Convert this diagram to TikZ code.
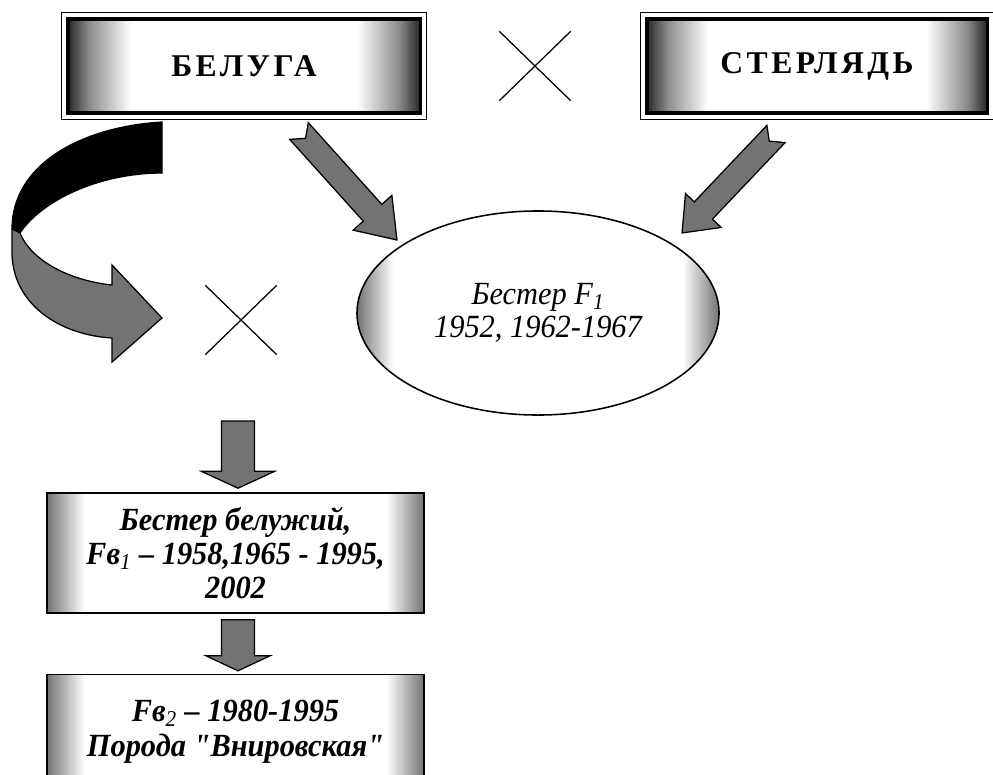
\documentclass[tikz,border=0pt]{standalone}
\usepackage{fontspec}
\setmainfont{Liberation Serif}[Ligatures=TeXOff]
\newfontfamily\spacedfont{Liberation Serif}[LetterSpace=11,Ligatures=TeXOff]
\newfontfamily\tallfont{Liberation Serif}[FakeStretch=0.94,Ligatures=TeXOff]
\usetikzlibrary{calc,positioning,shapes.geometric,shapes.misc}

\pgfdeclarehorizontalshading{boxedges}{100bp}{color(0bp)=(black!85); color(25bp)=(black!85); color(28bp)=(black!45); color(34bp)=(white); color(66bp)=(white); color(72bp)=(black!45); color(75bp)=(black!85); color(100bp)=(black!85)}
\pgfdeclarehorizontalshading{softedges}{100bp}{color(0bp)=(black!55); color(25bp)=(black!55); color(30bp)=(white); color(70bp)=(white); color(75bp)=(black!55); color(100bp)=(black!55)}

% [style]{tail}{tip}{shaft half width}{head half width}{head length}{notch}
\newcommand{\blockarrow}[7][]{%
  \path[block arrow,#1] let \p1=($(#3)-(#2)$), \n1={atan2(\y1,\x1)}, \n2={veclen(\x1,\y1)} in
    [shift={(#2)}, rotate=\n1]
    (0pt,#4) -- ({\n2*1pt-#6},#4) -- ({\n2*1pt-#6},#5) -- ({\n2*1pt},0pt)
    -- ({\n2*1pt-#6},-#5) -- ({\n2*1pt-#6},-#4) -- (0pt,-#4) -- (#7,0pt) -- cycle;}

\begin{document}
\begin{tikzpicture}[x=0.025cm, y=-0.025cm,
					thick,
					parent box/.style={draw, line width=2.2pt, shade, shading=boxedges,
					  minimum width=8.8cm, minimum height=2.35cm, inner sep=0pt,
					  font=\spacedfont\bfseries\fontsize{22.5}{24}\selectfont},
					hybrid box/.style={draw, line width=1.1pt, shade, shading=softedges,
					  minimum width=9.425cm, align=center, inner sep=0pt,
					  font=\tallfont\bfseries\itshape\fontsize{23}{24}\selectfont},
					hybrid oval/.style={ellipse, draw, line width=1.1pt, shade, shading=softedges,
					  minimum width=9.05cm, minimum height=5.1cm, align=center, inner sep=0pt,
					  font=\tallfont\itshape\fontsize{23}{23.5}\selectfont},
					cross sign/.style={cross out, draw, line width=0.9pt,
					  minimum width=1.75cm, minimum height=1.7cm, inner sep=0pt},
					block arrow/.style={draw=black, line width=0.9pt, fill=black!55}]

  \clip (0,0) rectangle (993,775);

  \node[parent box] (beluga) at (244,66) {БЕЛУГА};
  \node[parent box, minimum width=8.5cm] (sterlet) at (817,66) {СТЕРЛЯДЬ};
  \foreach \n in {beluga,sterlet}
    \draw[line width=0.7pt] ([shift={(-5,-5)}]\n.north west) rectangle ([shift={(5,5)}]\n.south east);

  \node[cross sign] (cross1) at (535,66) {};
  \node[cross sign] (cross2) at (241,320) {};

  \node[hybrid oval] (bester) at (538,313) {Бестер F\textsubscript{1}\\1952, 1962-1967};

  \node[hybrid box, minimum height=3cm] (bestbel) at (235.5,553)
    {Бестер белужий,\\Fв\textsubscript{\mdseries 1} – 1958,1965 - 1995,\\2002};
  \node[hybrid box, minimum height=2.85cm, below=1.5cm of bestbel,
        font=\tallfont\bfseries\itshape\fontsize{23}{25}\selectfont] (vnir)
    {Fв\textsubscript{\mdseries 2} – 1980-1995\\Порода "Внировская"};

  % arrows
  \coordinate (belout) at (299,131);
  \coordinate (bestin1) at (397,240);
  \coordinate (sterout) at (776,134);
  \coordinate (bestin2) at (682,233);
  \coordinate (crossout) at (238,421);
  \blockarrow{belout}{bestin1}{8.9pt}{18.5pt}{26pt}{7pt}
  \blockarrow{sterout}{bestin2}{8.9pt}{17.5pt}{22pt}{7pt}
  \blockarrow{crossout}{$(bestbel.north)+(2.5,-4)$}{11.7pt}{26pt}{12pt}{0pt}
  \blockarrow{$(bestbel.south)+(2.5,6)$}{$(vnir.north)+(2.5,-3)$}{11.7pt}{22.8pt}{10.7pt}{0pt}

  % back-crossing arrow
  \filldraw[line width=0.9pt, fill=black] (162,122) .. controls (80,127) and (12,165) .. (12,229)
    -- (20,233) .. controls (42,200) and (100,173) .. (162,173) -- cycle;
  \path[block arrow] (12,229) -- (12,255) .. controls (14,305) and (60,335) .. (112,338)
    -- (112,362) -- (162,318) -- (112,265) -- (112,285)
    .. controls (65,280) and (30,258) .. (20,233) -- cycle;
\end{tikzpicture}
\end{document}
